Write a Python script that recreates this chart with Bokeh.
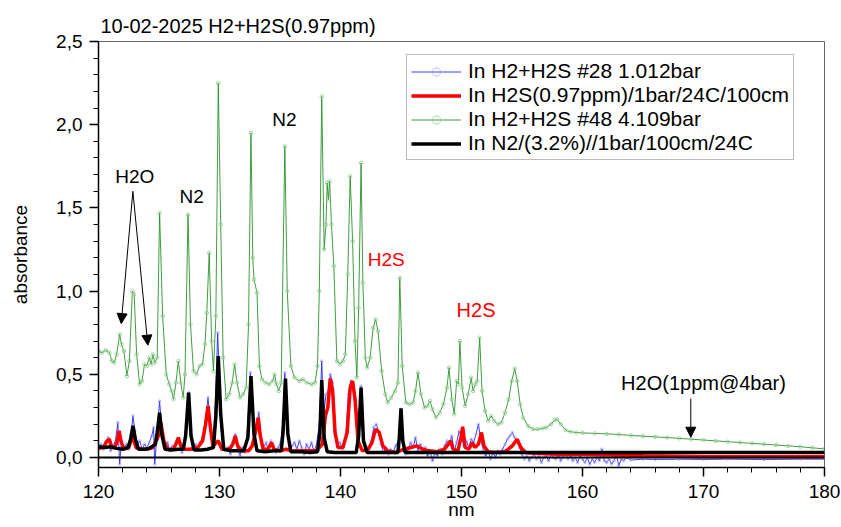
from bokeh.plotting import figure
from bokeh.models import (Range1d, Span, Label, Arrow, NormalHead, Legend, LegendItem,
                          SingleIntervalTicker, CustomJSTickFormatter)
from bokeh.embed import file_html
from bokeh.resources import INLINE

FONT = "Liberation Sans"

# --- spectra (wavelength in nm, absorbance) ---
# In H2+H2S #28 1.012bar
h2_28_nm = [120.0, 120.2, 120.4, 120.6, 120.8, 121.0, 121.2, 121.4, 121.6, 121.75, 121.9, 122.1, 122.3, 122.5,
            122.7, 122.85, 123.0, 123.2, 123.4, 123.6, 123.8, 124.0, 124.2, 124.4, 124.55, 124.65, 124.8,
            125.05, 125.25, 125.45, 125.7, 125.9, 126.1, 126.3, 126.5, 126.7, 126.9, 127.1, 127.3, 127.45,
            127.6, 127.8, 128.0, 128.2, 128.4, 128.6, 128.85, 129.05, 129.25, 129.45, 129.65, 129.85, 130.05,
            130.3, 130.5, 130.7, 130.9, 131.1, 131.3, 131.5, 131.7, 131.9, 132.1, 132.3, 132.55, 132.8,
            133.05, 133.25, 133.45, 133.65, 133.85, 134.05, 134.25, 134.45, 134.65, 134.85, 135.05, 135.25,
            135.4, 135.6, 135.8, 136.0, 136.2, 136.4, 136.6, 136.8, 137.0, 137.2, 137.4, 137.6, 137.8, 138.0,
            138.25, 138.45, 138.6, 138.8, 139.0, 139.15, 139.35, 139.55, 139.75, 139.95, 140.2, 140.45,
            140.65, 140.85, 141.05, 141.25, 141.5, 141.7, 141.9, 142.1, 142.3, 142.55, 142.75, 142.95,
            143.15, 143.35, 143.55, 143.75, 143.95, 144.15, 144.35, 144.55, 144.8, 145.0, 145.2, 145.4,
            145.6, 145.8, 146.0, 146.2, 146.4, 146.6, 146.8, 147.0, 147.2, 147.4, 147.6, 147.8, 148.0,
            148.2, 148.4, 148.6, 148.8, 149.0, 149.2, 149.4, 149.6, 149.8, 150.0, 150.2, 150.4, 150.6,
            150.8, 151.0, 151.2, 151.4, 151.6, 151.8, 152.0, 152.2, 152.4, 152.6, 152.8, 153.0, 153.2,
            153.4, 153.6, 153.8, 154.0, 154.2, 154.4, 154.6, 154.8, 155.0, 155.2, 155.4, 155.6, 155.8,
            156.0, 156.2, 156.4, 156.6, 156.8, 157.0, 157.2, 157.4, 157.6, 157.8, 158.0, 158.2, 158.4,
            158.6, 158.8, 159.0, 159.2, 159.4, 159.6, 159.8, 160.0, 160.2, 160.4, 160.6, 160.8, 161.0,
            161.2, 161.4, 161.6, 161.8, 162.0, 162.2, 162.4, 162.6, 162.8, 163.0, 163.2, 163.4, 163.6,
            164.0, 165.0, 166.0, 168.0, 170.0, 172.0, 175.0, 178.0, 180.0]
h2_28_abs = [0.06, 0.08, 0.05, 0.09, 0.12, 0.04, 0.07, 0.10, 0.21, -0.04, 0.10, 0.06, 0.08, 0.05,
             0.14, 0.25, 0.16, 0.07, 0.10, 0.05, 0.08, 0.06, 0.09, 0.13, 0.18, -0.04, 0.11,
             0.34, 0.15, 0.06, 0.09, 0.04, 0.07, 0.05, 0.10, 0.08, 0.03, 0.07, 0.20, 0.39,
             0.18, 0.06, 0.08, 0.05, 0.09, 0.12, 0.22, 0.36, 0.20, 0.08, 0.30, 0.75, 0.35,
             0.07, 0.04, 0.06, 0.02, 0.09, 0.14, 0.05, 0.01, 0.06, 0.03, 0.15, 0.51, 0.20,
             0.18, 0.27, 0.10, 0.06, 0.09, 0.04, 0.10, 0.07, 0.03, 0.06, 0.09, 0.22,
             0.51, 0.17, 0.04, 0.07, 0.09, 0.05, 0.10, 0.06, 0.02, 0.08, 0.05, 0.09, 0.04, 0.07,
             0.20, 0.58, 0.25, 0.38, 0.40, 0.50, 0.45, 0.16, 0.07, 0.09, 0.05, 0.14,
             0.38, 0.46, 0.44, 0.35, 0.20, 0.43, 0.12, 0.04, 0.06, 0.10, 0.18, 0.20,
             0.16, 0.08, 0.03, 0.06, 0.02, 0.05, 0.03, 0.07, 0.10, 0.29, 0.08, 0.02,
             0.05, 0.09, 0.06, 0.12, 0.04, 0.08, 0.03, 0.06, 0.01, 0.04, -0.02, 0.03, 0.01,
             0.05, 0.02, 0.07, 0.10, 0.08, 0.13, 0.04, 0.09, 0.16, 0.12, 0.07, 0.10, 0.06,
             0.11, 0.09, 0.14, 0.20, 0.10, 0.05, 0.01, 0.04, -0.01, 0.03, 0.00, 0.04, 0.02,
             0.05, 0.08, 0.11, 0.13, 0.15, 0.12, 0.10, 0.06, 0.02, -0.01, 0.01, -0.02, 0.00,
             0.02, -0.01, 0.01, -0.03, 0.00, 0.01, -0.02, 0.02, 0.00, -0.01, 0.02, -0.02, 0.00,
             0.03, -0.01, 0.01, -0.02, 0.00, -0.03, 0.01, -0.01, -0.03, 0.00, -0.04, -0.01, -0.03,
             0.00, -0.02, 0.05, -0.02, -0.03, -0.01, -0.04, -0.02, 0.02, -0.05, -0.01, -0.02, 0.00,
             -0.015, -0.01, -0.012, -0.01, -0.012, -0.01, -0.012, -0.01, -0.01]

# In H2S(0.97ppm)/1bar/24C/100cm
h2s_nm = [120.0, 120.4, 120.7, 120.9, 121.1, 121.35, 121.55, 121.7, 121.85, 122.1, 122.5, 122.8, 123.1,
          123.5, 124.0, 124.5, 124.9, 125.15, 125.4, 125.7, 126.2, 126.45, 126.6, 126.8, 127.1, 127.6,
          128.2, 128.6, 128.85, 129.05, 129.25, 129.45, 129.9, 130.2, 130.8, 131.1, 131.3, 131.5, 131.8,
          132.4, 132.7, 133.0, 133.2, 133.35, 133.6, 134.0, 134.3, 134.5, 135.0, 135.5, 136.0, 137.0,
          138.0, 138.5, 138.75, 138.95, 139.15, 139.35, 139.55, 139.8, 140.2, 140.55, 140.8, 141.0,
          141.2, 141.45, 141.8, 142.3, 142.6, 142.9, 143.2, 143.5, 143.9, 144.5, 145.3, 145.8, 146.3,
          146.8, 147.3, 148.0, 148.6, 148.9, 149.1, 149.3, 149.7, 149.95, 150.1, 150.3, 150.6, 150.9,
          151.1, 151.4, 151.65, 151.85, 152.2, 152.8, 153.6, 154.2, 154.6, 154.9, 155.3, 156.0, 158.0,
          160.0, 165.0, 170.0, 180.0]
h2s_abs = [0.055, 0.06, 0.10, 0.11, 0.06, 0.06, 0.10, 0.16, 0.10, 0.05, 0.06, 0.13, 0.06,
           0.05, 0.05, 0.06, 0.12, 0.21, 0.10, 0.05, 0.05, 0.09, 0.12, 0.07, 0.05, 0.05,
           0.06, 0.10, 0.20, 0.31, 0.18, 0.07, 0.10, 0.05, 0.05, 0.08, 0.13, 0.07, 0.04,
           0.04, 0.07, 0.16, 0.24, 0.14, 0.05, 0.05, 0.09, 0.05, 0.04, 0.05, 0.04, 0.04,
           0.04, 0.08, 0.25, 0.30, 0.475, 0.40, 0.15, 0.06, 0.06, 0.15, 0.42, 0.46,
           0.35, 0.10, 0.04, 0.05, 0.09, 0.17, 0.15, 0.07, 0.04, 0.03, 0.05, 0.06, 0.07,
           0.05, 0.04, 0.035, 0.05, 0.08, 0.10, 0.05, 0.04, 0.12, 0.185, 0.06, 0.05, 0.09,
           0.06, 0.08, 0.15, 0.07, 0.035, 0.03, 0.035, 0.07, 0.11, 0.06, 0.03, 0.025, 0.02,
           0.02, 0.01, 0.005, 0.005]

# In H2+H2S #48 4.109bar
h2_48_nm = [120.0, 120.3, 120.6, 120.9, 121.1, 121.3, 121.5, 121.75, 121.9, 122.1, 122.35, 122.55, 122.8,
            122.95, 123.15, 123.4, 123.6, 123.8, 124.0, 124.2, 124.35, 124.5, 124.65, 124.85, 125.05,
            125.3, 125.6, 125.85, 126.05, 126.2, 126.4, 126.6, 126.8, 127.0, 127.15, 127.4, 127.6,
            127.85, 128.1, 128.35, 128.6, 128.8, 128.95, 129.15, 129.35, 129.5, 129.7, 129.9, 130.1,
            130.3, 130.55, 130.8, 131.05, 131.25, 131.45, 131.7, 131.95, 132.2, 132.4, 132.6, 132.75,
            132.85, 133.1, 133.3, 133.5, 133.8, 134.1, 134.4, 134.55, 134.7, 134.9, 135.1, 135.4,
            135.6, 135.9, 136.2, 136.6, 136.9, 137.2, 137.6, 137.9, 138.1, 138.25, 138.45, 138.65,
            138.8, 138.9, 139.0, 139.1, 139.25, 139.45, 139.7, 139.95, 140.2, 140.4, 140.6, 140.8,
            141.0, 141.2, 141.35, 141.5, 141.7, 141.85, 142.05, 142.2, 142.45, 142.7, 142.9, 143.1,
            143.4, 143.7, 143.9, 144.2, 144.5, 144.75, 144.9, 145.1, 145.4, 145.7, 146.0, 146.2,
            146.4, 146.65, 146.95, 147.2, 147.4, 147.6, 147.9, 148.2, 148.5, 148.8, 148.97, 149.2,
            149.4, 149.6, 149.75, 149.86, 150.05, 150.3, 150.55, 150.8, 150.95, 151.15, 151.3, 151.5,
            151.7, 151.95, 152.2, 152.45, 152.7, 153.0, 153.3, 153.6, 153.9, 154.15, 154.4, 154.6,
            154.85, 155.1, 155.5, 155.9, 156.3, 156.7, 157.0, 157.4, 157.7, 157.9, 158.2, 158.6,
            159.0, 159.5, 160.0, 161.0, 162.0, 163.0, 164.0, 165.0, 166.0, 167.0, 168.0, 169.0,
            170.0, 171.0, 172.0, 173.0, 174.0, 175.0, 176.0, 177.0, 178.0, 179.0, 180.0]
h2_48_abs = [0.64, 0.63, 0.645, 0.63, 0.58, 0.57, 0.62, 0.74, 0.68, 0.64, 0.49, 0.58, 1.00,
             0.98, 0.62, 0.44, 0.46, 0.56, 0.55, 0.60, 0.56, 0.62, 0.57, 0.60, 1.47,
             0.85, 0.50, 0.44, 0.40, 0.35, 0.45, 0.58, 0.45, 0.36, 0.50, 1.46, 0.80,
             0.52, 0.50, 0.55, 0.56, 0.68, 0.87, 1.23, 0.70, 0.52, 0.85, 2.25, 1.40,
             0.60, 0.35, 0.38, 0.45, 0.56, 0.45, 0.36, 0.38, 0.42, 0.80, 1.95, 1.20,
             1.07, 0.99, 0.55, 0.47, 0.45, 0.44, 0.46, 0.50, 0.44, 0.40, 0.45, 1.87,
             1.00, 0.55, 0.48, 0.46, 0.47, 0.45, 0.44, 0.45, 0.55, 1.00, 2.17, 1.25,
             1.40, 1.65, 1.55, 1.66, 1.40, 1.15, 0.58, 0.56, 0.58, 0.62, 1.10, 1.69,
             1.30, 0.70, 0.48, 0.90, 1.77, 1.05, 0.60, 0.54, 0.60, 0.78, 0.83, 0.76,
             0.52, 0.38, 0.33, 0.36, 0.40, 0.45, 1.08, 0.55, 0.33, 0.32, 0.33, 0.40,
             0.51, 0.38, 0.30, 0.31, 0.34, 0.29, 0.24, 0.27, 0.32, 0.42, 0.54, 0.35,
             0.26, 0.46, 0.44, 0.70, 0.42, 0.31, 0.38, 0.48, 0.40, 0.44, 0.46, 0.72,
             0.40, 0.28, 0.22, 0.25, 0.22, 0.20, 0.21, 0.27, 0.35, 0.46, 0.535, 0.46,
             0.32, 0.24, 0.19, 0.17, 0.17, 0.175, 0.18, 0.20, 0.225, 0.23, 0.20, 0.165,
             0.155, 0.15, 0.148, 0.145, 0.142, 0.138, 0.133, 0.128, 0.124, 0.12, 0.115, 0.11,
             0.105, 0.10, 0.095, 0.09, 0.085, 0.08, 0.075, 0.07, 0.065, 0.058, 0.052]

# In N2/(3.2%)//1bar/100cm/24C
n2_nm = [120.0, 120.5, 121.0, 121.5, 122.0, 122.45, 122.65, 122.85, 123.05, 123.3, 123.8, 124.2, 124.5,
         124.7, 124.85, 125.05, 125.25, 125.5, 126.0, 126.6, 127.0, 127.2, 127.45, 127.65, 127.9, 128.5,
         129.0, 129.5, 129.7, 129.9, 130.1, 130.35, 131.0, 131.6, 132.0, 132.35, 132.6, 132.85, 133.1,
         133.8, 134.5, 135.1, 135.25, 135.45, 135.65, 135.9, 136.8, 137.5, 138.1, 138.3, 138.45, 138.65,
         138.9, 139.5, 140.5, 141.3, 141.5, 141.7, 141.9, 142.2, 143.0, 144.0, 144.75, 144.85, 145.0,
         145.15, 145.35, 146.0, 150.0, 155.0, 160.0, 170.0, 180.0]
n2_abs = [0.065, 0.06, 0.065, 0.055, 0.05, 0.06, 0.11, 0.19, 0.11, 0.05, 0.05, 0.055, 0.07,
          0.08, 0.15, 0.27, 0.13, 0.05, 0.045, 0.05, 0.05, 0.13, 0.39, 0.13, 0.045, 0.045,
          0.05, 0.06, 0.25, 0.61, 0.26, 0.05, 0.04, 0.04, 0.04, 0.12, 0.49, 0.14, 0.04,
          0.035, 0.04, 0.04, 0.15, 0.475, 0.14, 0.035, 0.035, 0.03, 0.035, 0.15, 0.465, 0.12,
          0.035, 0.03, 0.03, 0.03, 0.13, 0.42, 0.10, 0.03, 0.03, 0.03, 0.03, 0.11, 0.295,
          0.10, 0.03, 0.03, 0.03, 0.03, 0.03, 0.03, 0.03]

series_labels = ["In H2+H2S #28 1.012bar", "In H2S(0.97ppm)/1bar/24C/100cm",
                 "In H2+H2S #48 4.109bar", "In N2/(3.2%)//1bar/100cm/24C"]

p = figure(width=841, height=527, output_backend="svg", toolbar_location=None,
           x_range=Range1d(120, 180), y_range=Range1d(-0.06, 2.5),
           title="10-02-2025 H2+H2S(0.97ppm)",
           min_border_left=98, min_border_right=17, min_border_top=41, min_border_bottom=60)
p.background_fill_color = "white"
p.border_fill_color = "white"
p.outline_line_color = "#666666"
p.outline_line_width = 1
p.xgrid.visible = False
p.ygrid.visible = False

p.title.text_font = FONT
p.title.text_font_size = "20px"
p.title.text_font_style = "normal"
p.title.text_color = "black"
p.title.align = "left"
p.title.offset = 2
p.title.standoff = 9

# traces
blue_line = p.line(h2_28_nm, h2_28_abs, line_color="#1a1aff", line_width=1, line_alpha=0.85)
blue_pts = p.scatter(h2_28_nm, h2_28_abs, size=2.5, fill_color=None, line_color="#9999ff", line_width=0.7)
red_line = p.line(h2s_nm, h2s_abs, line_color="#ff0000", line_width=3.5)
black_line = p.line(n2_nm, n2_abs, line_color="black", line_width=3.5)
green_line = p.line(h2_48_nm, h2_48_abs, line_color="#1e8c1e", line_width=1, line_alpha=0.85)
green_pts = p.scatter(h2_48_nm, h2_48_abs, size=3.5, fill_color=None, line_color="#8ccc8c", line_width=0.8)

p.add_layout(Span(location=0, dimension="width", line_color="black", line_width=2))

# axes
for ax in (p.xaxis[0], p.yaxis[0]):
    ax.axis_line_color = "black"
    ax.axis_line_width = 1.5
    ax.major_tick_line_color = "black"
    ax.minor_tick_line_color = "black"
    ax.major_tick_line_width = 1.5
    ax.minor_tick_line_width = 1
    ax.major_tick_in = 0
    ax.major_tick_out = 9
    ax.minor_tick_in = 0
    ax.minor_tick_out = 5
    ax.major_label_text_font = FONT
    ax.major_label_text_font_size = "19px"
    ax.major_label_text_color = "black"
    ax.axis_label_text_font = FONT
    ax.axis_label_text_font_style = "normal"
    ax.axis_label_text_font_size = "19px"
    ax.axis_label_text_color = "black"

p.xaxis.ticker = SingleIntervalTicker(interval=10, num_minor_ticks=5)
p.yaxis.ticker = SingleIntervalTicker(interval=0.5, num_minor_ticks=5)
p.yaxis.formatter = CustomJSTickFormatter(code="return tick.toFixed(1).replace('.', ',');")
p.xaxis.major_label_standoff = 8
p.xaxis.axis_label = "nm"
p.xaxis.axis_label_standoff = -2
p.yaxis.major_label_standoff = 7
p.yaxis.axis_label = "absorbance"
p.yaxis.axis_label_standoff = 22

# peak annotations
notes = [("H2O", 123.0, 1.69, "black", "19px"), ("N2", 127.7, 1.57, "black", "19px"),
         ("N2", 135.36, 2.03, "black", "19px"), ("H2S", 143.78, 1.19, "#ff0000", "19px"),
         ("H2S", 151.2, 0.885, "#ff0000", "20px"), ("H2O(1ppm@4bar)", 170.0, 0.449, "black", "20px")]
for txt, xx, yy, col, fs in notes:
    p.add_layout(Label(x=xx, y=yy, text=txt, text_font=FONT, text_font_size=fs,
                       text_color=col, text_align="center", text_baseline="middle"))

arrows = [(122.84, 1.60, 121.88, 0.805), (122.84, 1.60, 124.08, 0.675), (168.95, 0.354, 168.95, 0.122)]
for x0, y0, x1, y1 in arrows:
    p.add_layout(Arrow(x_start=x0, y_start=y0, x_end=x1, y_end=y1, line_color="black", line_width=1,
                       end=NormalHead(size=10, fill_color="black", line_color="black", line_width=1)))

legend = Legend(items=[LegendItem(label=series_labels[0], renderers=[blue_line, blue_pts]),
                       LegendItem(label=series_labels[1], renderers=[red_line]),
                       LegendItem(label=series_labels[2], renderers=[green_line, green_pts]),
                       LegendItem(label=series_labels[3], renderers=[black_line])],
                location=(308, 307), orientation="vertical")
legend.label_text_font = FONT
legend.label_text_font_size = "21px"
legend.label_text_color = "black"
legend.glyph_width = 50
legend.glyph_height = 21
legend.label_height = 21
legend.spacing = 0
legend.label_standoff = 7
legend.padding = 4
legend.margin = 0
legend.border_line_color = "#777777"
legend.border_line_width = 1
legend.background_fill_alpha = 1
p.add_layout(legend)

open("out.html", "w").write(file_html(p, INLINE))
